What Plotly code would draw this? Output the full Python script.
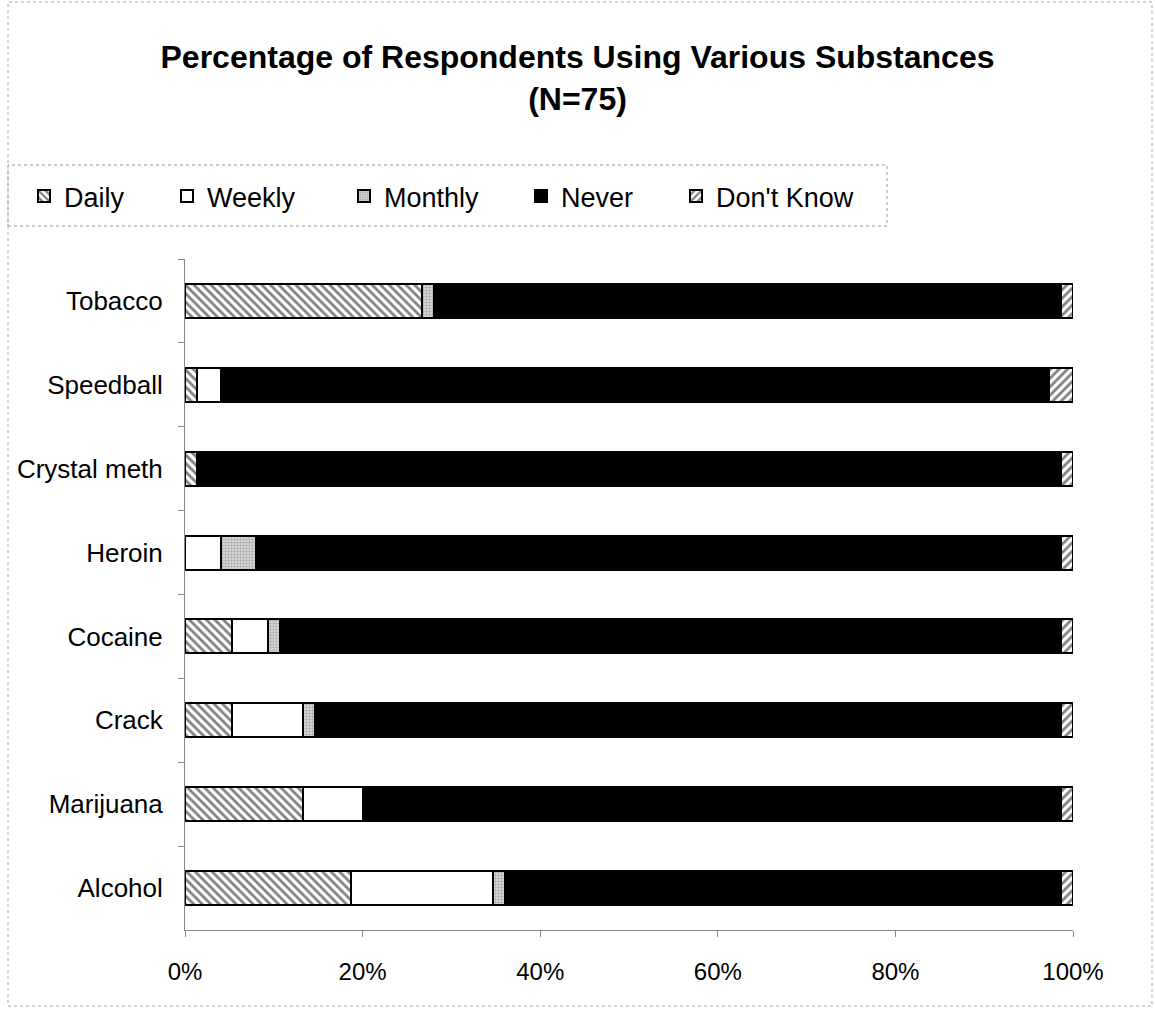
import plotly.graph_objects as go

categories = ["Tobacco", "Speedball", "Crystal meth", "Heroin", "Cocaine", "Crack", "Marijuana", "Alcohol"]
daily = [26.67, 1.33, 1.33, 0, 5.33, 5.33, 13.33, 18.67]
weekly = [0, 2.67, 0, 4, 4, 8, 6.67, 16]
monthly = [1.33, 0, 0, 4, 1.33, 1.33, 0, 1.33]
never = [70.67, 93.33, 97.33, 90.67, 88, 84, 78.67, 62.67]
dont_know = [1.33, 2.67, 1.33, 1.33, 1.33, 1.33, 1.33, 1.33]
x_ticks = [0, 20, 40, 60, 80, 100]
x_tick_labels = ["0%", "20%", "40%", "60%", "80%", "100%"]

FONT = "Liberation Sans"
line = dict(color="black", width=2)

L, R, T, B = 185, 1073, 259, 930
W, H = 1155, 1009
pw, ph = R - L, B - T

def px(x):
    return (x - L) / pw

def py(y):
    return (B - y) / ph

fig = go.Figure()
fig.add_trace(go.Bar(y=categories, x=daily, name="Daily", orientation="h", legend="legend",
                     marker=dict(color="white", line=line,
                                 pattern=dict(shape="\\", fgcolor="black", bgcolor="white", size=6, solidity=0.45))))
fig.add_trace(go.Bar(y=categories, x=weekly, name="Weekly", orientation="h", legend="legend2",
                     marker=dict(color="white", line=line)))
fig.add_trace(go.Bar(y=categories, x=monthly, name="Monthly", orientation="h", legend="legend3",
                     marker=dict(color="white", line=line,
                                 pattern=dict(shape=".", fgcolor="#777777", bgcolor="#e0e0e0", size=3, solidity=0.5))))
fig.add_trace(go.Bar(y=categories, x=never, name="Never", orientation="h", legend="legend4",
                     marker=dict(color="black", line=line)))
fig.add_trace(go.Bar(y=categories, x=dont_know, name="Don't Know", orientation="h", legend="legend5",
                     marker=dict(color="white", line=line,
                                 pattern=dict(shape="/", fgcolor="black", bgcolor="white", size=6, solidity=0.45))))
fig.update_traces(showlegend=True)

legend_x = [24, 167, 344, 521, 676]

def leg(xp):
    return dict(orientation="h", x=px(xp), y=py(172), xanchor="left", yanchor="top",
                font=dict(family=FONT, size=27), bgcolor="rgba(0,0,0,0)", borderwidth=0,
                itemwidth=30)

fig.update_layout(
    width=W, height=H,
    showlegend=True,
    margin=dict(l=L, r=W - R, t=T, b=H - B),
    barmode="stack", bargap=0.595,
    plot_bgcolor="white", paper_bgcolor="white",
    font=dict(family=FONT, size=22, color="black"),
    title=dict(text="<b>Percentage of Respondents Using Various Substances<br>(N=75)</b>",
               x=0.5, xref="container", xanchor="center",
               y=1 - 68 / H, yref="container", yanchor="top",
               font=dict(family=FONT, size=32, color="black")),
    legend=leg(legend_x[0]),
    legend2=leg(legend_x[1]),
    legend3=leg(legend_x[2]),
    legend4=leg(legend_x[3]),
    legend5=leg(legend_x[4]),
    xaxis=dict(range=[0, 100], tickvals=x_ticks, ticktext=x_tick_labels,
               showgrid=False, zeroline=False, showline=True, linecolor="#888888", linewidth=1,
               ticks="outside", ticklen=6, tickcolor="#888888", ticklabelstandoff=14,
               tickfont=dict(family=FONT, size=24)),
    yaxis=dict(autorange="reversed", showgrid=False, showline=True, linecolor="#888888", linewidth=1,
               ticks="outside", ticklen=6, tickcolor="#888888", tickson="boundaries",
               ticklabelstandoff=16,
               tickfont=dict(family=FONT, size=26)),
    shapes=[
        dict(type="rect", xref="paper", yref="paper",
             x0=px(8), x1=px(887), y0=py(226), y1=py(165),
             line=dict(color="#999999", width=1, dash="dot")),
        dict(type="rect", xref="paper", yref="paper",
             x0=px(8), x1=px(1152), y0=py(1006), y1=py(2),
             line=dict(color="#aaaaaa", width=1, dash="dot")),
    ],
)

fig.write_html("out.html")
